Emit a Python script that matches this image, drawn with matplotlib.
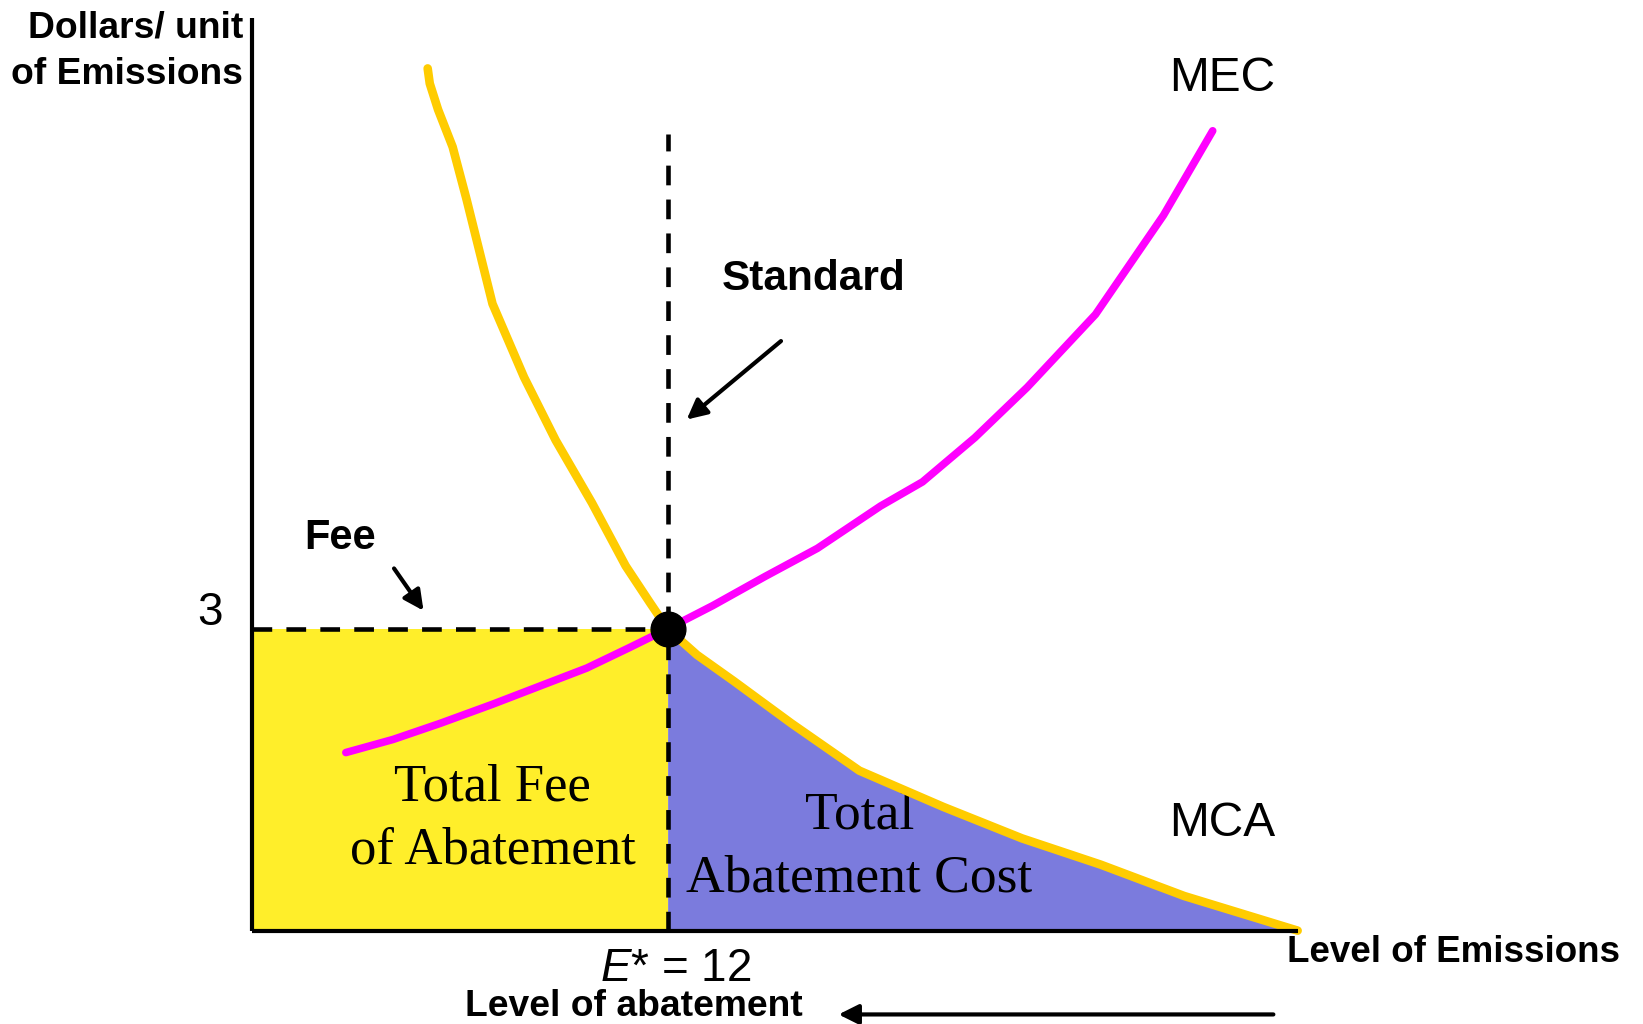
import numpy as np
import matplotlib.pyplot as plt

plt.rcParams['font.family'] = ['Liberation Sans', 'DejaVu Sans']
plt.rcParams['mathtext.fontset'] = 'custom'
plt.rcParams['mathtext.it'] = 'Liberation Sans:italic'
plt.rcParams['mathtext.rm'] = 'Liberation Sans'

# curves (emissions, $/unit)
mca_x = [5.08, 5.14, 5.38, 5.80, 6.20, 6.95, 7.86, 8.77, 9.82, 10.79, 11.49, 12.0,
         12.85, 13.91, 15.57, 17.53, 19.95, 22.22, 24.49, 26.90, 30.17]
mca_y = [8.57, 8.42, 8.16, 7.79, 7.27, 6.23, 5.50, 4.875, 4.25, 3.625, 3.26, 3.0,
         2.74, 2.48, 2.06, 1.59, 1.23, 0.917, 0.656, 0.344, 0.0]
mec_x = [2.72, 4.08, 5.44, 6.95, 8.46, 9.67, 10.88, 12.0, 13.30, 14.81, 16.32,
         18.14, 19.35, 20.86, 22.37, 24.34, 26.30, 27.72]
mec_y = [1.77, 1.90, 2.06, 2.25, 2.45, 2.61, 2.81, 3.0, 3.23, 3.52, 3.80,
         4.22, 4.46, 4.90, 5.40, 6.125, 7.11, 7.95]
e_star = 12
fee = 3
x_end = 30.17
y_top = 9.07
std_top = 7.92

fig = plt.figure(figsize=(16.43, 10.24), dpi=100)
ax = fig.add_axes([0, 0, 1, 1])
ax.set_xlim(-7.254, 40.13)
ax.set_ylim(-0.928, 9.25)
ax.axis('off')

# shaded areas
ax.fill_between([0, e_star], 0, fee, color='#FFEE2A', lw=0, zorder=1)
mx = np.array(mca_x)
my = np.array(mca_y)
sel = mx >= e_star
ax.fill_between(mx[sel], 0, my[sel], color='#7B7BDD', lw=0, zorder=1)

# axes
ax.plot([0, 0], [0, y_top], color='black', lw=3, zorder=5, solid_capstyle='butt')
ax.plot([0, x_end], [0, 0], color='black', lw=3, zorder=5, solid_capstyle='butt')

# dashed guides
ax.plot([0, e_star], [fee, fee], color='black', lw=3.3, dashes=(4.3, 3.1), zorder=3)
ax.plot([e_star, e_star], [0, std_top], color='black', lw=3.3, dashes=(4.3, 3.1), zorder=3)

# curves
ax.plot(mec_x, mec_y, color='#FF00FF', lw=5.5, solid_capstyle='round', zorder=4)
ax.plot(mca_x, mca_y, color='#FFCC00', lw=6.2, solid_capstyle='round', zorder=4)
ax.plot([e_star], [fee], 'o', color='black', ms=25, zorder=6)

# labels
ax.text(-0.24, 8.74, 'Dollars/ unit\nof Emissions', ha='right', va='center',
        fontsize=26.8, fontweight='bold', multialignment='right', linespacing=1.4)
ax.text(27.99, 8.47, 'MEC', ha='center', va='center', fontsize=34.5)
ax.text(27.99, 1.06, 'MCA', ha='center', va='center', fontsize=34.5)
ax.text(16.2, 6.48, 'Standard', ha='center', va='center', fontsize=30.5, fontweight='bold')
ax.text(2.54, 3.90, 'Fee', ha='center', va='center', fontsize=30, fontweight='bold')
ax.text(-1.21, 3.16, '3', ha='center', va='center', fontsize=33)
ax.text(12.24, -0.385, '$E$* = 12', ha='center', va='center', fontsize=33)
ax.text(11.03, -0.75, 'Level of abatement', ha='center', va='center', fontsize=26.8,
        fontweight='bold')
ax.text(34.67, -0.22, 'Level of Emissions', ha='center', va='center', fontsize=26.5,
        fontweight='bold')
ax.text(6.95, 1.11, 'Total Fee\nof Abatement', ha='center', va='center', fontsize=38,
        family='Liberation Serif', linespacing=1.4)
ax.text(17.53, 0.83, 'Total\nAbatement Cost', ha='center', va='center', fontsize=38.5,
        family='Liberation Serif', linespacing=1.4)

# arrows
arrow = dict(arrowstyle='-|>', color='black', lw=3, mutation_scale=30, shrinkA=0, shrinkB=0)
ax.annotate('', xy=(12.55, 5.08), xytext=(15.27, 5.86), arrowprops=arrow)
ax.annotate('', xy=(4.96, 3.18), xytext=(4.11, 3.60), arrowprops=arrow)
ax.annotate('', xy=(16.93, -0.833), xytext=(29.47, -0.833), arrowprops=arrow)

fig.savefig('out.png', dpi=100)
